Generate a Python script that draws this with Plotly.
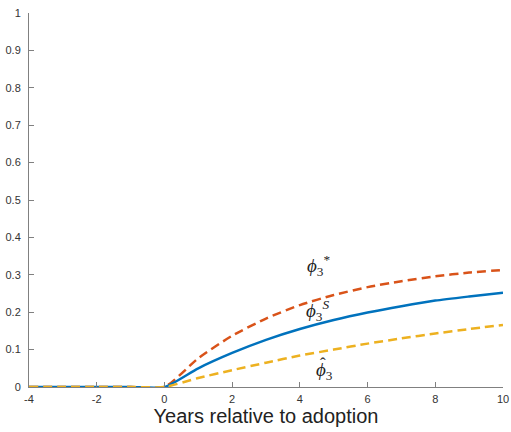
import plotly.graph_objects as go

# Years relative to adoption
years = [-4, -3, -2, -1, 0, 1, 2, 3, 4, 5, 6, 7, 8, 9, 10]
# phi_3^* (orange dashed)
phi_star = [0, 0, 0, 0, 0, 0.077, 0.137, 0.183, 0.219, 0.246, 0.267, 0.283, 0.296, 0.306, 0.313]
# phi_3^S (blue solid)
phi_s = [0, 0, 0, 0, 0, 0.050, 0.091, 0.126, 0.155, 0.179, 0.199, 0.216, 0.231, 0.242, 0.252]
# phi_3 hat (yellow dashed)
phi_hat = [0, 0, 0, 0, 0, 0.024, 0.045, 0.065, 0.084, 0.100, 0.116, 0.130, 0.143, 0.155, 0.166]

x_ticks = [-4, -2, 0, 2, 4, 6, 8, 10]
x_tick_labels = ["-4", "-2", "0", "2", "4", "6", "8", "10"]
y_ticks = [0, 0.1, 0.2, 0.3, 0.4, 0.5, 0.6, 0.7, 0.8, 0.9, 1]
y_tick_labels = ["0", "0.1", "0.2", "0.3", "0.4", "0.5", "0.6", "0.7", "0.8", "0.9", "1"]

fig = go.Figure()
fig.add_trace(go.Scatter(x=years, y=phi_star, mode="lines",
                         line=dict(color="#D95319", width=2.5, dash="9px,5px", shape="spline", smoothing=0.6)))
fig.add_trace(go.Scatter(x=years, y=phi_s, mode="lines",
                         line=dict(color="#0072BD", width=2.5, shape="spline", smoothing=0.6)))
fig.add_trace(go.Scatter(x=years, y=phi_hat, mode="lines",
                         line=dict(color="#EDB120", width=2.5, dash="9px,5px", shape="spline", smoothing=0.6)))

serif = "Liberation Serif, Times New Roman, serif"
lab_font = dict(family=serif, size=19, color="#222222")
fig.add_annotation(x=4.56, y=0.325, text="<i>ϕ</i><sub>3</sub><sup>*</sup>", showarrow=False, font=lab_font)
fig.add_annotation(x=4.54, y=0.205, text="<i>ϕ</i><sub>3</sub><sup><i>S</i></sup>", showarrow=False, font=lab_font)
fig.add_annotation(x=4.73, y=0.042, text="<i>ϕ</i><sub>3</sub>", showarrow=False, font=lab_font)
fig.add_annotation(x=4.68, y=0.064, text="ˆ", showarrow=False, font=dict(family=serif, size=17, color="#222222"))

axis_common = dict(showgrid=False, zeroline=False, showline=True, linecolor="#808080", linewidth=1,
                   ticks="inside", ticklen=5, tickcolor="#808080", mirror=False, automargin=False,
                   tickfont=dict(family="Liberation Sans, Arial, sans-serif", size=11, color="#333333"))

fig.update_layout(
    width=511, height=432,
    margin=dict(l=29, r=8, t=13, b=45, autoexpand=False),
    paper_bgcolor="white", plot_bgcolor="white",
    showlegend=False,
    xaxis=dict(range=[-4, 10], tickvals=x_ticks, ticktext=x_tick_labels, ticklabeloverflow="allow",
               ticklabelstandoff=2, **axis_common,
               title=dict(text="Years relative to adoption", standoff=2,
                          font=dict(family="Liberation Sans, Arial, sans-serif", size=20, color="#222222"))),
    yaxis=dict(range=[0, 1], tickvals=y_ticks, ticktext=y_tick_labels, ticklabeloverflow="allow",
               ticklabelstandoff=5, **axis_common),
)

# remove the page's default body margin so the figure fills the window exactly
fig.write_html("out.html", config={"displayModeBar": False},
               post_script="document.body.style.margin='0';document.body.style.overflow='hidden';")
